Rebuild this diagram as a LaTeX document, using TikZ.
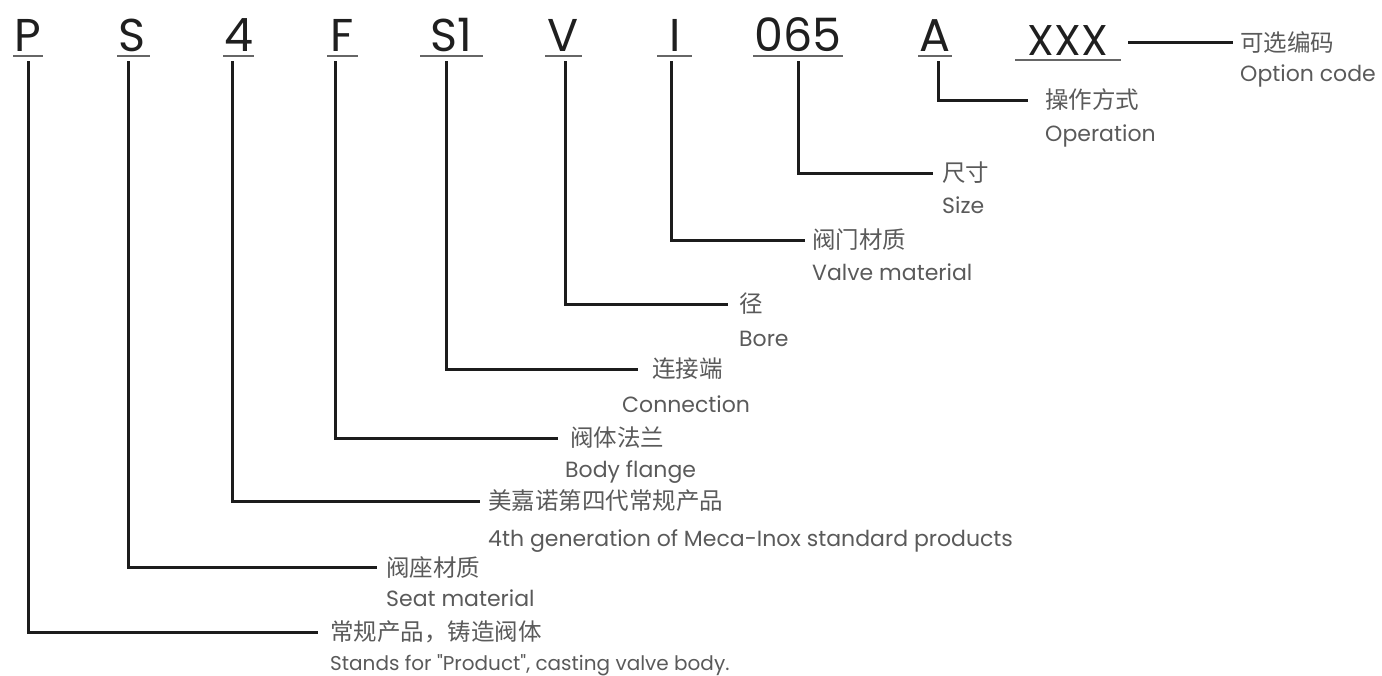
\documentclass[tikz,border=0pt]{standalone}
\usepackage{fontspec}
\setmainfont{Poppins}
\newfontfamily\cjk{Noto Sans CJK SC}
\definecolor{ln}{HTML}{1C1C1C}
\definecolor{lab}{HTML}{5A5A5A}
\begin{document}
\begin{tikzpicture}[x=1pt,y=-1pt,
  big/.style={font=\fontsize{46}{46}\selectfont, text=black!88, inner sep=0pt, anchor=base},
  cn/.style={font=\cjk\fontsize{23.5}{23.5}\selectfont, text=lab, inner sep=0pt, anchor=west},
  en/.style={font=\fontsize{22}{22}\selectfont, text=lab, inner sep=0pt, anchor=base west},
  conn/.style={draw=ln, line width=3pt},
  uline/.style={draw=black!60, line width=1.3pt}]
\useasboundingbox (0,0) rectangle (1382,675);
% code letters
\node[big] (P)   at (28,51)  {P};
\node[big] (S)   at (132,51) {S};
\node[big] (N4)  at (239,51) {4};
\node[big] (F)   at (342,51) {F};
\node[big] (S1)  at (451,51) {S1};
\node[big] (V)   at (563,51) {V};
\node[big] (I)   at (675,51) {I};
\node[big] (Sz)  at (798,51) {065};
\node[big] (A)   at (935,51) {A};
\node[big, font=\fontsize{43}{43}\selectfont] (X) at (1068,55) {XXX};
% underlines
\draw[uline] (13,56) -- (43,56);
\draw[uline] (117,56) -- (150,56);
\draw[uline] (223,56) -- (254,56);
\draw[uline] (327,56) -- (358,56);
\draw[uline] (420,56) -- (483,56);
\draw[uline] (545,56) -- (582,56);
\draw[uline] (657,56) -- (692,56);
\draw[uline] (753,56) -- (843,56);
\draw[uline] (918,56) -- (952,56);
\draw[uline] (1015,60) -- (1121,60);
% top points of connectors
\coordinate (Pt)  at (28,61);
\coordinate (St)  at (128,61);
\coordinate (N4t) at (232,61);
\coordinate (Ft)  at (335,61);
\coordinate (S1t) at (446,61);
\coordinate (Vt)  at (565,61);
\coordinate (It)  at (671,61);
\coordinate (Szt) at (798,61);
\coordinate (At)  at (938,61);
\coordinate (Xt)  at (1128,42);
% labels
\node[cn] (Pcn)  at (330,632) {常规产品，铸造阀体};
\node[en, font=\fontsize{20}{20}\selectfont] (Pen)  at (330,670) {Stands for \textquotedbl Product\textquotedbl, casting valve body.};
\node[cn] (Scn)  at (386,567) {阀座材质};
\node[en] (Sen)  at (386,606) {Seat material};
\node[cn] (N4cn) at (488,501) {美嘉诺第四代常规产品};
\node[en] (N4en) at (488,546) {4th generation of Meca-Inox standard products};
\node[cn] (Fcn)  at (570,438) {阀体法兰};
\node[en] (Fen)  at (565,477) {Body flange};
\node[cn] (S1cn) at (652,369) {连接端};
\node[en] (S1en) at (622,412) {Connection};
\node[cn] (Vcn)  at (739,304) {径};
\node[en] (Ven)  at (739,346) {Bore};
\node[cn] (Icn)  at (812,240) {阀门材质};
\node[en] (Ien)  at (812,280) {Valve material};
\node[cn] (Szcn) at (942,173) {尺寸};
\node[en] (Szen) at (942,213) {Size};
\node[cn] (Acn)  at (1045,100) {操作方式};
\node[en] (Aen)  at (1045,141) {Operation};
\node[cn] (Xcn)  at (1240,42) {可选编码};
\node[en] (Xen)  at (1240,81) {Option code};
% connectors
\draw[conn] (Pt)  |- ([xshift=-12pt]Pcn.west);
\draw[conn] (St)  |- ([xshift=-9pt]Scn.west);
\draw[conn] (N4t) |- ([xshift=-8pt]N4cn.west);
\draw[conn] (Ft)  |- ([xshift=-12pt]Fcn.west);
\draw[conn] (S1t) |- ([xshift=-14pt]S1cn.west);
\draw[conn] (Vt)  |- ([xshift=-11pt]Vcn.west);
\draw[conn] (It)  |- ([xshift=-7pt]Icn.west);
\draw[conn] (Szt) |- ([xshift=-9pt]Szcn.west);
\draw[conn] (At)  |- ([xshift=-17pt]Acn.west);
\draw[conn] (Xt)  -- ([xshift=-7pt]Xcn.west);
\end{tikzpicture}
\end{document}
